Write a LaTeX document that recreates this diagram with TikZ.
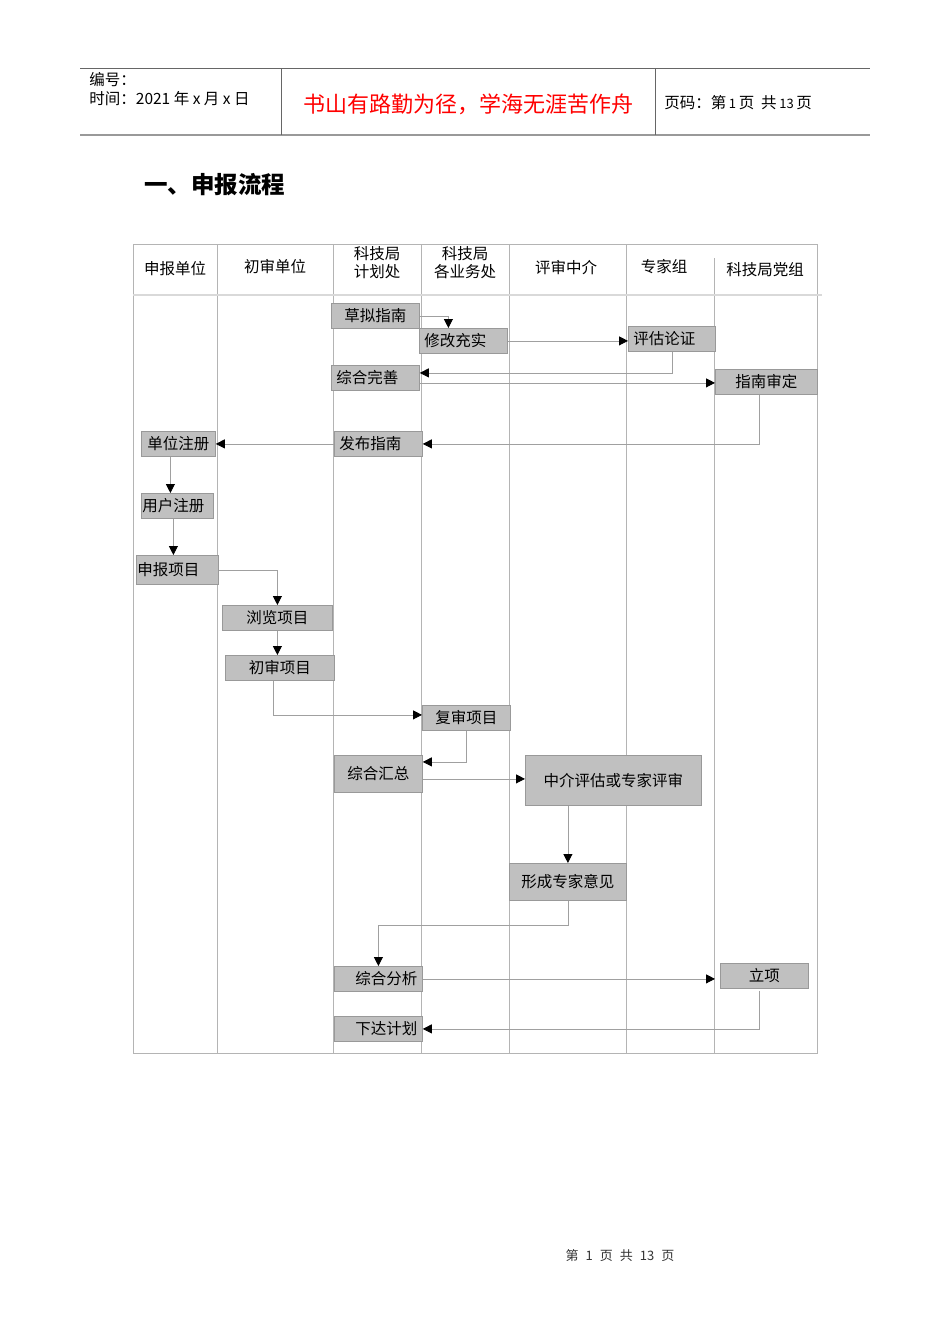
\documentclass[tikz,border=0pt]{standalone}
\usepackage{fontspec}
\setmainfont{Noto Sans CJK SC}
\usepackage{xcolor}
\usetikzlibrary{arrows.meta,calc,positioning}
\definecolor{rulegray}{HTML}{666666}
\definecolor{boxline}{HTML}{999999}
\definecolor{boxfill}{HTML}{C0C0C0}
\definecolor{flowgray}{HTML}{A0A0A0}
\definecolor{lanegray}{HTML}{B4B4B4}

\begin{document}
\begin{tikzpicture}[x=1pt,y=-1pt,line width=0.8pt,
  >={Triangle[color=black,fill=black,width=9pt,length=9pt]}]
  \tikzstyle{box}=[draw=boxline,fill=boxfill,
    inner xsep=5pt,inner ysep=0pt,anchor=north west,align=center,
    minimum height=25pt,font=\fontsize{15.5}{18}\selectfont]
  \tikzstyle{flow}=[draw=flowgray,->]
  \tikzstyle{lane}=[draw=lanegray,line width=0.6pt]
  \tikzstyle{head}=[font=\fontsize{15.5}{18}\selectfont,align=center,inner sep=0pt]
  \useasboundingbox[fill=white] (0,0) rectangle (950,1344);

  % page header
  \draw[line width=1pt,draw=rulegray] (80,68) -- (870,68);
  \draw[line width=1.5pt,draw=boxline] (80,135) -- (870,135);
  \draw[draw=rulegray] (281,68) -- (281,135) (655,68) -- (655,135);
  \node (n1) [head,anchor=west] at (89,80) {编号：};
  \node (n2) [head,anchor=west] at (89,99) {时间：2021\ 年\ x\ 月\ x\ 日};
  \node (n3) [head,red,font=\fontsize{22}{24}\selectfont] at (468,104)
    {书山有路勤为径，学海无涯苦作舟};
  \node (n4) [head,anchor=west] at (664,103)
    {页码：第\,{\fontsize{13}{13}\selectfont 1}\,页\ \ 共\,{\fontsize{13}{13}\selectfont 13}\,页};
  \node (t) [head,anchor=west,font=\fontsize{23.5}{26}\selectfont\bfseries] at (144,185)
    {一、申报流程};

  % lanes
  \draw[lane] (133,244) rectangle (817,1053);
  \foreach \x in {217,333,421,509,626}
    \draw[lane] (\x,244) -- (\x,1053);
  \draw[lane] (714,258) -- (714,1053);
  \draw[line width=2pt,black!15] (133,295) -- (822,295);
  \node (c1) [head] at (175,269) {申报单位};
  \node (c2) [head] at (275,267) {初审单位};
  \node (c3) [head] at (377,263) {科技局\\计划处};
  \node (c4) [head] at (465,263) {科技局\\各业务处};
  \node (c5) [head] at (566,268) {评审中介};
  \node (c6) [head] at (664,267) {专家组};
  \node (c7) [head] at (765,270) {科技局党组};

  % steps
  \node (0)  [box,text width=78pt] at (331,303) {草拟指南};
  \node (1)  [box,text width=78pt,align=left] at (419,328) {修改充实};
  \node (2)  [box,text width=77pt,align=left] at (628,326) {评估论证};
  \node (3)  [box,text width=78pt,align=left] at (331,365) {综合完善};
  \node (4)  [box,text width=92pt] at (715,369) {指南审定};
  \node (5)  [box,text width=78pt,align=left] at (334,431) {发布指南};
  \node (6)  [box,text width=64pt] at (141,431) {单位注册};
  \node (7)  [box,text width=70pt,inner xsep=1pt,align=left] at (141,493) {用户注册};
  \node (8)  [box,text width=80pt,inner xsep=1pt,align=left,minimum height=29pt] at (136,555) {申报项目};
  \node (9)  [box,text width=100pt] at (222,605) {浏览项目};
  \node (10) [box,text width=99pt] at (225,655) {初审项目};
  \node (11) [box,text width=78pt] at (422,705) {复审项目};
  \node (12) [box,text width=78pt,minimum height=37pt] at (334,755) {综合汇总};
  \node (13) [box,text width=166pt,minimum height=50pt] at (525,755) {中介评估或专家评审};
  \node (14) [box,text width=107pt,minimum height=37pt] at (509,863) {形成专家意见};
  \node (15) [box,text width=78pt,align=right] at (334,966) {综合分析};
  \node (16) [box,text width=78pt] at (720,963) {立项};
  \node (17) [box,text width=78pt,align=right] at (334,1016) {下达计划};

  \coordinate (3r) at ($(3.east)+(0,5)$);
  \coordinate (12r) at ($(12.east)+(0,5)$);
  \coordinate (15r) at ($(15.east -| 16.west)+(-5,0)$);
  \path[->,color=flowgray]
  (1.east) edge (1.east -| 2.west)
  (3r) edge (3r -| 4.west)
  (5.west) edge (6.east)
  ($(6.south)+(-8,0)$) edge ($(7.north)+(-7,0)$)
  ($(7.south)+(-4,0)$) edge ($(8.north)+(-4,0)$)
  (9.south) edge (9.south |- 10.north)
  (12r) edge (12r -| 13.west)
  (14.north |- 13.south) edge (14.north)
  (15.east) edge (15r)
  ;
  \draw[flow] (0.east) -| ($(1.north)+(-15,0)$);
  \draw[flow] (2.south) |- ($(3.east)+(0,-5)$);
  \draw[flow] ($(4.south)+(-7,0)$) |- (5.east);
  \draw[flow] (8.east) -| (9.north);
  \draw[flow] ($(10.south)+(-7,0)$) |- ($(11.west)+(0,-3)$);
  \draw[flow] (11.south) |- ($(12.east)+(0,-12)$);
  \draw[flow] (14.south) -- ++(0,25) -| (15.north);
  \draw[flow] ($(16.south)+(-5,2)$) |- (17.east);

  % page footer
  \node (f) [head,font=\fontsize{13}{15}\selectfont,black!80] at (620,1256)
    {第\hspace{7pt}1\hspace{7pt}页\hspace{7pt}共\hspace{7pt}13\hspace{7pt}页};
\end{tikzpicture}
\end{document}
